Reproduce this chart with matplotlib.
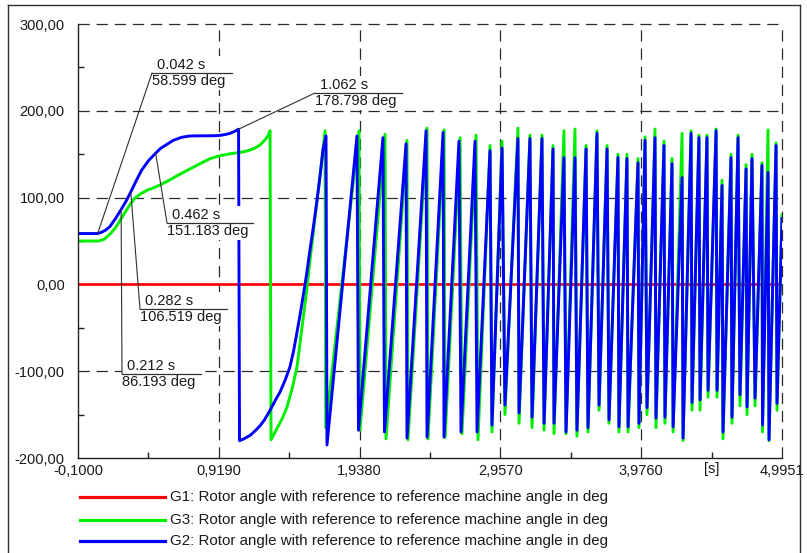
import matplotlib
matplotlib.use('Agg')
import matplotlib.pyplot as plt
from matplotlib.lines import Line2D
from matplotlib.patches import Rectangle
from matplotlib.ticker import FixedLocator

plt.rcParams['font.family'] = ['Liberation Sans', 'DejaVu Sans']

# ---------------- data ----------------
series_labels = [
    "G1: Rotor angle with reference to reference machine angle in deg",
    "G3: Rotor angle with reference to reference machine angle in deg",
    "G2: Rotor angle with reference to reference machine angle in deg",
]

# G1 (reference machine) stays at zero
t_g1 = [-0.1, 4.9951]
v_g1 = [0.0, 0.0]

# G2 (blue)
t_g2 = [-0.100, 0.042, 0.070, 0.100, 0.130, 0.170, 0.212, 0.250, 0.282, 0.320, 0.360, 0.410, 0.462,
        0.500, 0.550, 0.590, 0.650, 0.710, 0.780, 0.855, 0.920, 0.960, 1.000, 1.030, 1.062,
        1.069, 1.100, 1.145, 1.180, 1.217, 1.250, 1.290, 1.330, 1.362, 1.400, 1.434, 1.460, 1.485,
        1.505, 1.528, 1.555, 1.579, 1.605, 1.630, 1.652, 1.673, 1.695,
        1.702, 1.919, 1.930, 2.107, 2.118, 2.274, 2.281, 2.419, 2.426, 2.542, 2.549,
        2.657, 2.672, 2.773, 2.788, 2.882, 2.896, 2.969, 2.990, 3.084, 3.092, 3.171, 3.186,
        3.258, 3.273, 3.338, 3.345, 3.417, 3.432, 3.497, 3.511, 3.577, 3.591, 3.656, 3.671,
        3.729, 3.743, 3.808, 3.815, 3.873, 3.881, 3.953, 3.960, 4.004, 4.018, 4.076, 4.083,
        4.141, 4.148, 4.199, 4.207, 4.272, 4.279, 4.337, 4.344, 4.394, 4.402, 4.452, 4.460,
        4.518, 4.525, 4.561, 4.568, 4.626, 4.633, 4.677, 4.691, 4.735, 4.742, 4.778, 4.800,
        4.850, 4.854, 4.894, 4.901, 4.952, 4.959, 4.995]
v_g2 = [58.6, 58.6, 60.0, 62.5, 66.5, 75.5, 86.2, 96.5, 106.5, 119.0, 131.5, 142.5, 151.2,
        157.0, 162.0, 166.0, 169.5, 171.0, 171.2, 171.2, 171.5, 172.5, 174.0, 176.0, 178.8,
        -180.0, -178.0, -174.0, -169.0, -163.0, -156.0, -145.0, -133.0, -124.0, -110.0, -95.0, -77.0, -55.0,
        -37.0, -15.0, 12.0, 40.0, 68.0, 97.0, 125.0, 155.0, 171.0,
        -185.0, 171.0, -168.0, 169.0, -170.0, 162.0, -177.0, 177.0, -176.0, 175.0, -176.0,
        165.0, -170.0, 165.0, -170.0, 154.0, -162.0, 157.0, -139.0, 168.0, -148.0, 168.0, -153.0,
        168.0, -160.0, 156.0, -160.0, 146.0, -170.0, 146.0, -168.0, 156.0, -165.0, 174.0, -139.0,
        156.0, -156.0, 146.0, -164.0, 145.0, -164.0, 140.0, -160.0, 166.0, -142.0, 169.0, -154.0,
        160.0, -153.0, 139.0, -164.0, 123.0, -177.0, 174.0, -136.0, 169.0, -133.0, 169.0, -122.0,
        177.0, -122.0, 114.0, -170.0, 146.0, -153.0, 169.0, -127.0, 133.0, -141.0, 145.0, -131.0,
        137.0, -162.0, 129.0, -179.0, 160.0, -137.0, 76.0]

# G3 (green)
t_g3 = [-0.100, 0.050, 0.090, 0.132, 0.170, 0.204, 0.240, 0.276, 0.310, 0.349, 0.400, 0.450, 0.493,
        0.560, 0.638, 0.710, 0.783, 0.850, 0.920, 1.000, 1.073, 1.130, 1.181, 1.220, 1.250, 1.275, 1.290,
        1.297, 1.320, 1.340, 1.380, 1.413, 1.450, 1.485, 1.505, 1.528, 1.555, 1.579, 1.605, 1.630, 1.660, 1.688,
        1.693, 1.934, 1.941, 2.122, 2.129, 2.281, 2.288, 2.426, 2.433, 2.549, 2.557,
        2.665, 2.679, 2.781, 2.795,
        2.882, 2.896, 2.969, 2.990, 3.084, 3.092, 3.171, 3.186,
        3.258, 3.273, 3.338, 3.345, 3.417, 3.432, 3.497, 3.511, 3.577, 3.591, 3.656, 3.671,
        3.729, 3.743, 3.808, 3.815, 3.873, 3.881, 3.953, 3.960, 4.004, 4.018, 4.076, 4.083,
        4.141, 4.148, 4.199, 4.207, 4.272, 4.279, 4.337, 4.344, 4.394, 4.402, 4.452, 4.460,
        4.518, 4.525, 4.561, 4.568, 4.626, 4.633, 4.677, 4.691, 4.735, 4.742, 4.778, 4.800,
        4.850, 4.854, 4.894, 4.901, 4.952, 4.959, 4.995]
v_g3 = [50.0, 50.0, 52.0, 58.0, 65.0, 73.5, 83.0, 92.0, 99.0, 104.0, 108.5, 111.5, 114.5,
        120.0, 127.0, 133.0, 139.0, 144.5, 148.0, 150.5, 152.0, 154.0, 157.0, 161.0, 166.0, 171.0, 177.0,
        -179.0, -172.0, -166.0, -154.0, -141.0, -120.0, -95.0, -70.0, -41.0, -7.0, 28.0, 62.0, 97.0, 137.0, 177.0,
        -165.0, 177.0, -168.0, 173.0, -178.0, 166.0, -179.0, 180.0, -178.0, 178.0, -176.0,
        169.0, -172.0, 172.0, -179.0,
        160.0, -170.0, 165.0, -150.0, 180.0, -160.0, 172.0, -165.0,
        172.0, -168.0, 160.0, -172.0, 177.0, -172.0, 179.0, -175.0, 160.0, -170.0, 177.0, -145.0,
        160.0, -160.0, 150.0, -170.0, 150.0, -170.0, 145.0, -165.0, 170.0, -150.0, 179.0, -165.0,
        165.0, -160.0, 145.0, -170.0, 174.0, -180.0, 177.0, -145.0, 172.0, -145.0, 172.0, -130.0,
        179.0, -130.0, 120.0, -178.0, 150.0, -160.0, 172.0, -140.0, 138.0, -150.0, 150.0, -140.0,
        140.0, -170.0, 178.0, -180.0, 163.0, -145.0, 80.0]

# markers placed on G2
ann_t = [0.042, 0.212, 0.282, 0.462, 1.062]
ann_v = [58.599, 86.193, 106.519, 151.183, 178.798]
ann_s = ["0.042 s", "0.212 s", "0.282 s", "0.462 s", "1.062 s"]
ann_d = ["58.599 deg", "86.193 deg", "106.519 deg", "151.183 deg", "178.798 deg"]

x_ticks = [-0.1, 0.919, 1.938, 2.957, 3.976, 4.9951]
x_ticklabels = ["-0,1000", "0,9190", "1,9380", "2,9570", "3,9760", "4,9951"]
y_ticks = [-200, -100, 0, 100, 200, 300]
y_ticklabels = ["-200,00", "-100,00", "0,00", "100,00", "200,00", "300,00"]

# ---------------- figure ----------------
W, H = 807, 553
fig = plt.figure(figsize=(W / 100, H / 100), dpi=100)
AX_L, AX_R, AX_T, AX_B = 78, 782, 24, 458
ax = fig.add_axes([AX_L / W, 1 - AX_B / H, (AX_R - AX_L) / W, (AX_B - AX_T) / H])

def fig_xy(px, py):
    return px / W, 1 - py / H

def ax_xy(px, py):
    return (px - AX_L) / (AX_R - AX_L), (AX_B - py) / (AX_B - AX_T)

ax.set_xlim(x_ticks[0], x_ticks[-1])
ax.set_ylim(y_ticks[0], y_ticks[-1])

grid_kw = dict(color='#2a2a2a', lw=0.9, linestyle=(0, (9.0, 5.5)), zorder=1, clip_on=False)
for yv in y_ticks[1:]:
    ax.axhline(yv, **grid_kw)
for xv in x_ticks[1:]:
    ax.axvline(xv, **grid_kw)

colors = ['#ff0000', '#00ee00', '#0000ff']
LW = 2.1
l1, = ax.plot(t_g1, v_g1, color=colors[0], lw=1.9, zorder=3)
l3, = ax.plot(t_g3, v_g3, color=colors[1], lw=LW, zorder=4)
l2, = ax.plot(t_g2, v_g2, color=colors[2], lw=LW, zorder=5)

for s in ['top', 'right']:
    ax.spines[s].set_visible(False)
for s in ['left', 'bottom']:
    ax.spines[s].set_color('#202020')
    ax.spines[s].set_linewidth(1.0)
    ax.spines[s].set_zorder(6)

ax.set_xticks(x_ticks)
ax.set_xticklabels(x_ticklabels)
ax.set_yticks(y_ticks)
ax.set_yticklabels(y_ticklabels)
ax.xaxis.set_minor_locator(FixedLocator([(a + b) / 2 for a, b in zip(x_ticks[:-1], x_ticks[1:])]))
ax.yaxis.set_minor_locator(FixedLocator([(a + b) / 2 for a, b in zip(y_ticks[:-1], y_ticks[1:])]))
ax.tick_params(which='major', length=0, labelsize=10.5, colors='#1a1a1a')
ax.tick_params(axis='y', which='major', pad=9.5)
ax.tick_params(axis='x', which='major', pad=4)
ax.tick_params(which='minor', direction='in', length=4.5, width=1.0, color='#202020')

# unit label
ax.text(4.4855, -0.026, "[s]", transform=ax.get_xaxis_transform(), ha='center', va='center',
        fontsize=10.5, color='#1a1a1a')

# annotations (label positions in pixels: left end of separator line, y, line length)
ann_pos = [(152, 73, 80), (122, 374, 79), (140, 309, 87), (167, 223, 86), (315, 93, 87)]
for t, v, s1, s2, (px, py, ln) in zip(ann_t, ann_v, ann_s, ann_d, ann_pos):
    x0, y0 = ax_xy(px, py)
    x1, _ = ax_xy(px + ln, py)
    _, yb_bot = ax_xy(px, py + 17)
    _, yb_top = ax_xy(px, py - 17)
    ax.add_patch(Rectangle((x0, yb_bot), x1 - x0, yb_top - yb_bot, transform=ax.transAxes,
                           facecolor='white', edgecolor='none', zorder=7, clip_on=False))
    ax.annotate('', xy=(t, v), xytext=(x0, y0), textcoords='axes fraction',
                arrowprops=dict(arrowstyle='-', color='#303030', lw=0.8, shrinkA=0, shrinkB=0),
                zorder=8)
    ax.add_line(Line2D([x0, x1], [y0, y0], transform=ax.transAxes, color='#303030', lw=0.9,
                       zorder=8, clip_on=False))
    xt, yt = ax_xy(px + 5, py - 1)
    ax.text(xt, yt, s1, transform=ax.transAxes, ha='left', va='bottom', fontsize=10.5,
            color='#1a1a1a', zorder=9)
    xt, yt = ax_xy(px, py + 1)
    ax.text(xt, yt, s2, transform=ax.transAxes, ha='left', va='top', fontsize=10.5,
            color='#1a1a1a', zorder=9)

# legend (manual, below the plot)
rows_y = [497, 520, 541]
for lbl, c, ry in zip(series_labels, colors, rows_y):
    xa, ya = fig_xy(80, ry)
    xb, _ = fig_xy(165, ry)
    fig.add_artist(Line2D([xa, xb], [ya, ya], transform=fig.transFigure, color=c, lw=2.3))
    xt, _ = fig_xy(170, ry)
    fig.text(xt, ya, lbl, ha='left', va='center', fontsize=10.9, color='#1a1a1a')

# outer frame
bc = '#303030'
fig.add_artist(Line2D([8 / W, 8 / W], [0, 1 - 5 / H], transform=fig.transFigure, color=bc, lw=1.0))
fig.add_artist(Line2D([8 / W, 800 / W], [1 - 5 / H, 1 - 5 / H], transform=fig.transFigure, color=bc, lw=1.0))
fig.add_artist(Line2D([800 / W, 800 / W], [0, 1 - 5 / H], transform=fig.transFigure, color=bc, lw=1.0))

fig.savefig('out.png', dpi=100)
